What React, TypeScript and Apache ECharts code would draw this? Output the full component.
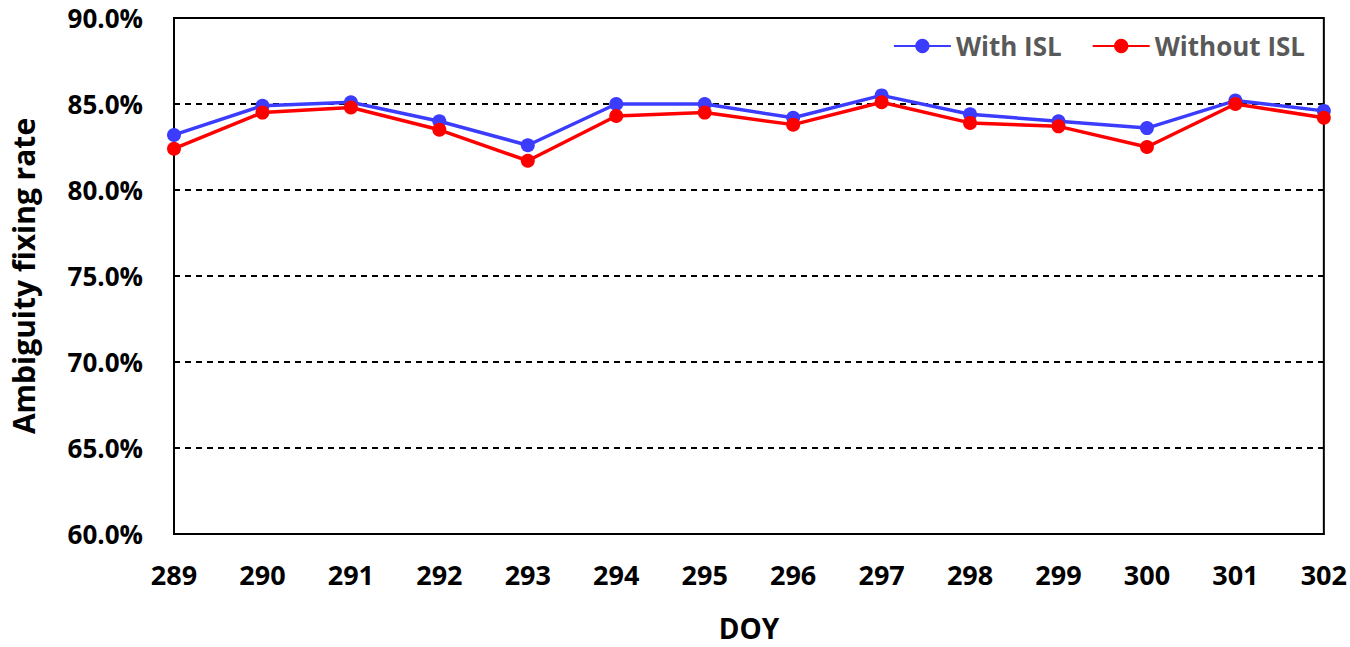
import React, { useEffect, useRef } from "react";
import * as echarts from "echarts";

const doy = ["289", "290", "291", "292", "293", "294", "295", "296", "297", "298", "299", "300", "301", "302"];
const withIsl = [83.2, 84.9, 85.1, 84.0, 82.6, 85.0, 85.0, 84.2, 85.5, 84.4, 84.0, 83.6, 85.2, 84.6];
const withoutIsl = [82.4, 84.5, 84.8, 83.5, 81.7, 84.3, 84.5, 83.8, 85.1, 83.9, 83.7, 82.5, 85.0, 84.2];

const FONT = "'Open Sans', 'Noto Sans', sans-serif";

export default function App() {
  const ref = useRef<HTMLDivElement>(null);
  useEffect(() => {
    document.body.style.margin = "0";
    const chart = echarts.init(ref.current!, null, { renderer: "svg" });
    chart.setOption({
      animation: false,
      backgroundColor: "#ffffff",
      textStyle: { fontFamily: FONT },
      grid: {
        left: 174,
        right: 23,
        top: 18,
        bottom: 108,
        show: true,
        borderColor: "#000",
        borderWidth: 2,
      },
      legend: {
        right: 40,
        top: 28,
        itemWidth: 57,
        itemHeight: 18,
        itemGap: 30,
        textStyle: { fontFamily: FONT, fontSize: 26, fontWeight: "bold", color: "#595959" },
        data: ["With ISL", "Without ISL"],
      },
      xAxis: {
        type: "category",
        data: doy,
        boundaryGap: false,
        name: "DOY",
        nameLocation: "middle",
        nameGap: 80,
        nameTextStyle: { fontFamily: FONT, fontSize: 28, fontWeight: "bold", color: "#000" },
        axisLine: { show: true, lineStyle: { color: "#000", width: 2 } },
        axisTick: { show: false },
        axisLabel: { fontFamily: FONT, fontSize: 27, fontWeight: "bold", color: "#000", margin: 27 },
        splitLine: { show: false },
      },
      yAxis: {
        type: "value",
        min: 60,
        max: 90,
        interval: 5,
        name: "Ambiguity fixing rate",
        nameLocation: "middle",
        nameGap: 136,
        nameTextStyle: { fontFamily: FONT, fontSize: 30, fontWeight: "bold", color: "#000" },
        axisLine: { show: true, lineStyle: { color: "#000", width: 2 } },
        axisTick: { show: false },
        axisLabel: {
          fontFamily: FONT,
          fontSize: 26,
          fontWeight: "bold",
          color: "#000",
          margin: 31,
          formatter: (v: number) => v.toFixed(1) + "%",
        },
        splitLine: { show: true, lineStyle: { color: "#000", width: 2, type: [6, 5] } },
      },
      series: [
        {
          name: "With ISL",
          type: "line",
          data: withIsl,
          symbol: "circle",
          symbolSize: 14,
          lineStyle: { color: "#3c3cff", width: 3.5 },
          itemStyle: { color: "#3c3cff" },
        },
        {
          name: "Without ISL",
          type: "line",
          data: withoutIsl,
          symbol: "circle",
          symbolSize: 14,
          lineStyle: { color: "#ff0000", width: 3.5 },
          itemStyle: { color: "#ff0000" },
        },
      ],
    });
    return () => chart.dispose();
  }, []);
  return <div ref={ref} style={{ width: 1350, height: 647 }} />;
}
